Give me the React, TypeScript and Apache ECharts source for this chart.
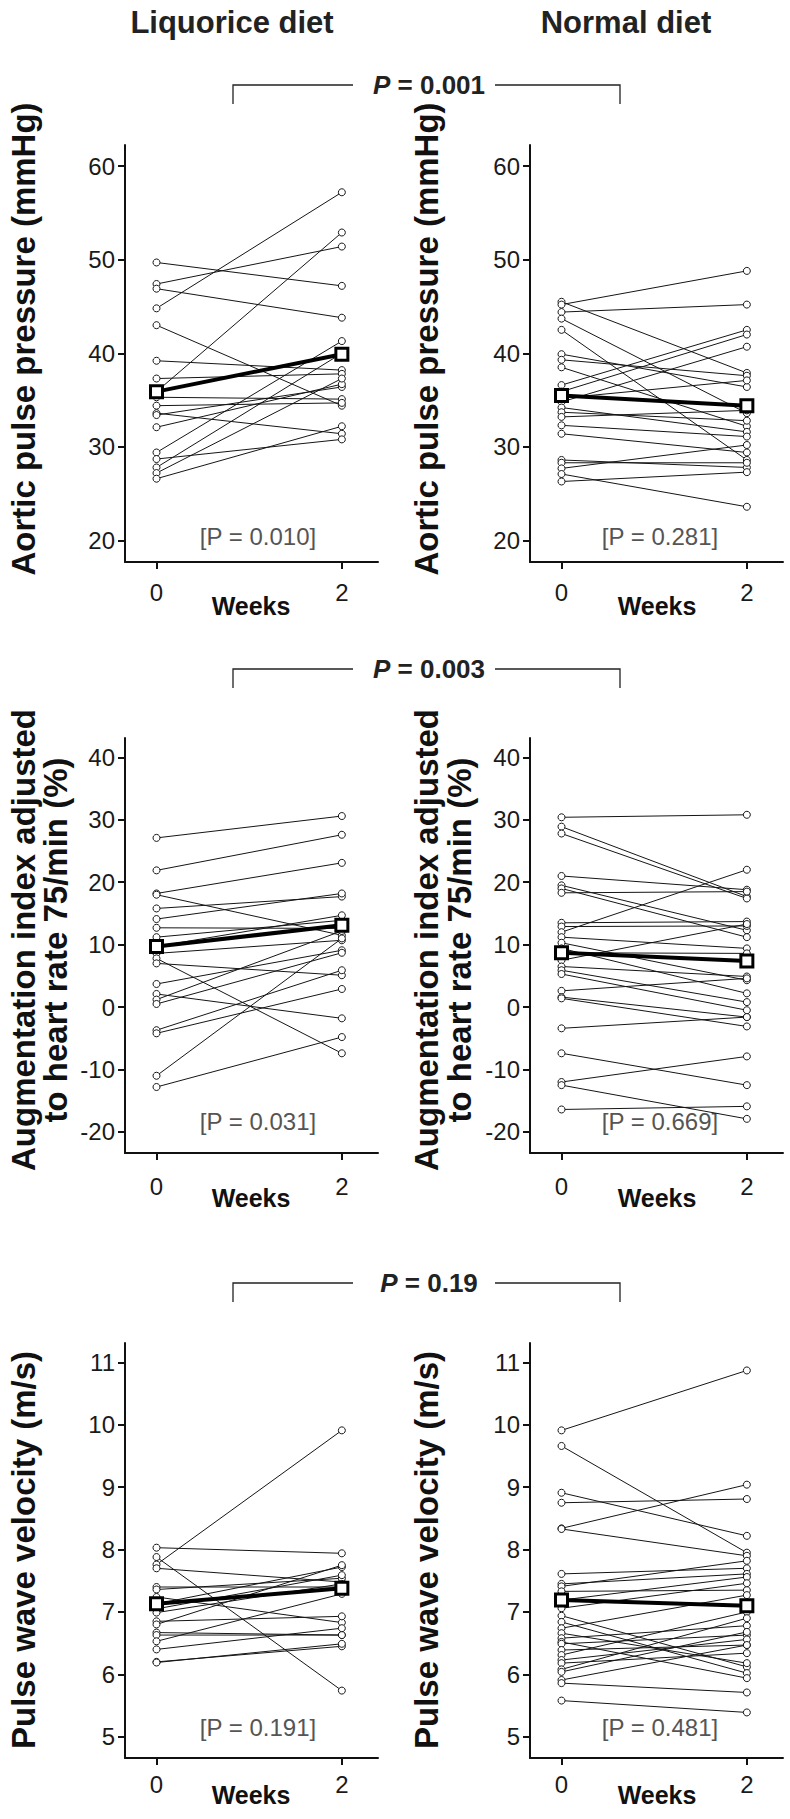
import React, { useEffect, useRef } from 'react';
import * as echarts from 'echarts';

const FONT = '"Liberation Sans", Arial, Helvetica, sans-serif';

// ---------- data ----------
const weekTicks = [0, 2];
const ppTicks = [20, 30, 40, 50, 60];
const aixTicks = [-20, -10, 0, 10, 20, 30, 40];
const pwvTicks = [5, 6, 7, 8, 9, 10, 11];

const dietTitles = ['Liquorice diet', 'Normal diet'];
const betweenP = ['0.001', '0.003', '0.19'];
const withinP = ['[P = 0.010]', '[P = 0.281]', '[P = 0.031]', '[P = 0.669]', '[P = 0.191]', '[P = 0.481]'];
const yTitles = [
  ['Aortic pulse pressure (mmHg)'],
  ['Augmentation index adjusted', 'to heart rate 75/min (%)'],
  ['Pulse wave velocity (m/s)'],
];

// Aortic pulse pressure (mmHg)
const ppLiqW0 = [49.7, 47.4, 46.9, 44.8, 43.0, 39.2, 37.3, 35.9, 35.3, 34.4, 33.6, 33.4, 32.1, 29.4, 28.7, 27.8, 27.2, 26.6];
const ppLiqW2 = [47.2, 51.4, 43.8, 57.2, 34.4, 38.2, 37.8, 52.9, 35.1, 34.7, 31.4, 36.4, 36.7, 41.3, 30.8, 40.0, 37.3, 32.2];
const ppLiqMean = [35.9, 39.9];

const ppNorW0 = [45.5, 45.2, 44.4, 43.7, 42.5, 39.9, 39.3, 38.5, 36.6, 35.9, 35.2, 34.8, 34.2, 33.7, 33.2, 32.3, 31.4, 28.6, 28.3, 27.7, 27.1, 26.3];
const ppNorW2 = [37.9, 48.8, 45.2, 33.6, 28.6, 36.4, 37.6, 32.2, 42.5, 42.0, 37.1, 40.7, 31.6, 32.8, 33.9, 31.1, 29.4, 27.8, 28.3, 30.2, 23.6, 27.3];
const ppNorMean = [35.5, 34.4];

// Augmentation index adjusted to HR 75 (%)
const aixLiqW0 = [27.1, 21.9, 18.2, 18.0, 15.8, 14.1, 12.7, 11.2, 9.7, 8.6, 7.8, 7.0, 3.7, 2.1, 1.2, 0.5, -3.7, -4.2, -11.0, -12.8];
const aixLiqW2 = [30.6, 27.6, 23.1, 11.5, 17.7, 18.2, 12.6, 13.9, 14.7, 10.7, -7.4, 5.1, 9.1, -1.8, 12.2, 8.7, 5.9, 2.9, 11.0, -4.8];
const aixLiqMean = [9.7, 13.1];

const aixNorW0 = [30.4, 28.9, 27.8, 21.0, 19.5, 19.0, 18.3, 13.5, 12.9, 12.0, 11.2, 10.3, 9.4, 8.7, 7.5, 6.5, 5.9, 5.3, 2.6, 1.6, 1.4, -3.4, -7.4, -12.0, -12.5, -16.4];
const aixNorW2 = [30.8, 17.7, 17.4, 18.8, 12.3, 11.2, 18.5, 13.7, 13.0, 22.0, 9.4, 4.3, 2.2, 8.6, 13.3, 4.9, 0.8, -0.5, 4.6, -1.6, -3.1, -1.6, -12.5, -7.9, -17.9, -15.9];
const aixNorMean = [8.7, 7.4];

// Pulse wave velocity (m/s)
const pwvLiqW0 = [8.03, 7.88, 7.76, 7.70, 7.40, 7.36, 7.24, 7.13, 7.05, 6.99, 6.85, 6.80, 6.67, 6.63, 6.53, 6.40, 6.20, 6.19];
const pwvLiqW2 = [7.94, 5.74, 9.91, 7.48, 7.40, 7.54, 6.83, 7.72, 7.59, 7.45, 6.93, 7.75, 6.63, 6.63, 7.29, 6.74, 6.45, 6.49];
const pwvLiqMean = [7.13, 7.38];

const pwvNorW0 = [9.91, 9.66, 8.91, 8.75, 8.34, 8.33, 7.61, 7.45, 7.41, 7.33, 7.19, 7.06, 6.94, 6.84, 6.74, 6.66, 6.58, 6.52, 6.49, 6.39, 6.31, 6.23, 6.18, 6.08, 6.04, 5.91, 5.86, 5.58];
const pwvNorW2 = [10.87, 7.95, 8.22, 8.81, 9.04, 7.90, 7.70, 7.61, 7.82, 7.35, 7.56, 7.46, 6.12, 6.02, 7.27, 6.18, 6.78, 5.94, 6.63, 6.47, 7.00, 6.56, 6.34, 6.90, 6.68, 6.47, 5.71, 5.39];
const pwvNorMean = [7.19, 7.10];

const panelData = [
  { w0: ppLiqW0, w2: ppLiqW2, mean: ppLiqMean, ticks: ppTicks },
  { w0: ppNorW0, w2: ppNorW2, mean: ppNorMean, ticks: ppTicks },
  { w0: aixLiqW0, w2: aixLiqW2, mean: aixLiqMean, ticks: aixTicks },
  { w0: aixNorW0, w2: aixNorW2, mean: aixNorMean, ticks: aixTicks },
  { w0: pwvLiqW0, w2: pwvLiqW2, mean: pwvLiqMean, ticks: pwvTicks },
  { w0: pwvNorW0, w2: pwvNorW2, mean: pwvNorMean, ticks: pwvTicks },
];

// ---------- layout ----------
const rowLayout = [
  { top: 145, height: 417, ymin: 17.7, ymax: 62.25, xLabelMargin: 18, weeksY: 606, titleY: 339, pY: 536, bracketY: 85 },
  { top: 738, height: 415, ymin: -23.37, ymax: 43.1, xLabelMargin: 21, weeksY: 1198, titleY: 940, pY: 1121, bracketY: 669 },
  { top: 1343, height: 415, ymin: 4.66, ymax: 11.31, xLabelMargin: 14, weeksY: 1795, titleY: 1550, pY: 1727, bracketY: 1283 },
];
const colLayout = [
  { left: 125, width: 253, weeksX: 251, pX: 258, titleX: [23, 55] },
  { left: 530, width: 253, weeksX: 657, pX: 660, titleX: [426, 459] },
];

export default function App() {
  const ref = useRef<HTMLDivElement>(null);

  useEffect(() => {
    document.body.style.margin = '0';
    if (!ref.current) return;
    const chart = echarts.init(ref.current, null, { renderer: 'svg' });

    const grids: any[] = [];
    const xAxes: any[] = [];
    const yAxes: any[] = [];
    const series: any[] = [];
    const graphic: any[] = [];

    panelData.forEach((p, i) => {
      const row = rowLayout[Math.floor(i / 2)];
      const col = colLayout[i % 2];
      grids.push({ left: col.left, top: row.top, width: col.width, height: row.height, containLabel: false });
      xAxes.push({
        type: 'value',
        gridIndex: i,
        min: -0.34,
        max: 2.39,
        axisLine: { show: true, onZero: false, lineStyle: { color: '#111', width: 2 } },
        axisTick: { show: true, inside: false, length: 7, lineStyle: { color: '#111', width: 2 }, customValues: weekTicks },
        axisLabel: { customValues: weekTicks, margin: row.xLabelMargin, fontSize: 24, color: '#1a1a1a', fontFamily: FONT },
        splitLine: { show: false },
      });
      yAxes.push({
        type: 'value',
        gridIndex: i,
        min: row.ymin,
        max: row.ymax,
        axisLine: { show: true, onZero: false, lineStyle: { color: '#111', width: 2 } },
        axisTick: { show: true, inside: false, length: 7, lineStyle: { color: '#111', width: 2 }, customValues: p.ticks },
        axisLabel: { customValues: p.ticks, margin: 10, fontSize: 24, color: '#1a1a1a', fontFamily: FONT },
        splitLine: { show: false },
      });
      p.w0.forEach((v, j) => {
        series.push({
          type: 'line',
          xAxisIndex: i,
          yAxisIndex: i,
          data: [[weekTicks[0], v], [weekTicks[1], p.w2[j]]],
          symbol: 'circle',
          symbolSize: 7,
          showSymbol: true,
          silent: true,
          z: 2,
          lineStyle: { color: '#151515', width: 1 },
          itemStyle: { color: '#fff', borderColor: '#151515', borderWidth: 1 },
          emphasis: { disabled: true },
        });
      });
      series.push({
        type: 'line',
        xAxisIndex: i,
        yAxisIndex: i,
        data: [[weekTicks[0], p.mean[0]], [weekTicks[1], p.mean[1]]],
        symbol: 'rect',
        symbolSize: 12,
        showSymbol: true,
        silent: true,
        z: 5,
        lineStyle: { color: '#000', width: 4 },
        itemStyle: { color: '#fff', borderColor: '#000', borderWidth: 3 },
        emphasis: { disabled: true },
      });

      // within-group P label
      graphic.push({
        type: 'text', x: col.pX, y: row.pY,
        style: { text: withinP[i], font: `24px ${FONT}`, fill: '#555', align: 'center', verticalAlign: 'middle' },
      });
      // Weeks
      graphic.push({
        type: 'text', x: col.weeksX, y: row.weeksY,
        style: { text: 'Weeks', font: `bold 25px ${FONT}`, fill: '#111', align: 'center', verticalAlign: 'middle' },
      });
      // y axis title(s)
      const lines = yTitles[Math.floor(i / 2)];
      lines.forEach((t, k) => {
        graphic.push({
          type: 'text', x: col.titleX[k], y: row.titleY, rotation: Math.PI / 2,
          style: { text: t, font: `bold 33px ${FONT}`, fill: '#111', align: 'center', verticalAlign: 'middle' },
        });
      });
    });

    // diet titles
    graphic.push({ type: 'text', x: 232, y: 22, style: { text: dietTitles[0], font: `bold 31px ${FONT}`, fill: '#222', align: 'center', verticalAlign: 'middle' } });
    graphic.push({ type: 'text', x: 626, y: 22, style: { text: dietTitles[1], font: `bold 31px ${FONT}`, fill: '#222', align: 'center', verticalAlign: 'middle' } });

    // between-group brackets
    rowLayout.forEach((row, r) => {
      const y = row.bracketY;
      graphic.push({ type: 'polyline', shape: { points: [[233, y + 19], [233, y], [353, y]] }, style: { stroke: '#222', lineWidth: 1.3, fill: null } });
      graphic.push({ type: 'polyline', shape: { points: [[495, y], [620, y], [620, y + 19]] }, style: { stroke: '#222', lineWidth: 1.3, fill: null } });
      graphic.push({
        type: 'text', x: 429, y,
        style: {
          text: `{i|P} = ${betweenP[r]}`,
          font: `bold 26px ${FONT}`,
          fill: '#222',
          align: 'center',
          verticalAlign: 'middle',
          rich: { i: { fontStyle: 'italic', fontWeight: 'bold', fontSize: 26, fontFamily: FONT, fill: '#222' } },
        },
      });
    });

    chart.setOption({
      animation: false,
      backgroundColor: '#fff',
      grid: grids,
      xAxis: xAxes,
      yAxis: yAxes,
      series,
      graphic,
    });
    return () => chart.dispose();
  }, []);

  return <div ref={ref} style={{ position: 'absolute', left: 0, top: 0, width: 790, height: 1819 }} />;
}
